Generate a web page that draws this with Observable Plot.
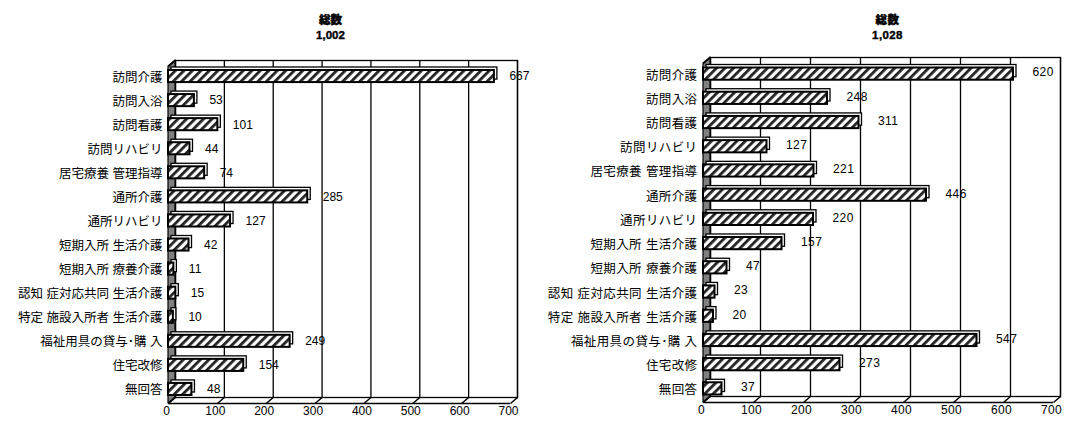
<!DOCTYPE html>
<html><head><meta charset="utf-8">
<script src="https://cdn.jsdelivr.net/npm/d3@7"></script>
<script src="https://cdn.jsdelivr.net/npm/@observablehq/plot@0.6"></script>
<style>
body{margin:0;background:#fff;}
#wrap{position:relative;width:1077px;height:424px;overflow:hidden;}
.panel{position:absolute;top:0;}
</style></head><body><div id="wrap"></div>
<script>
const categories = ["訪問介護","訪問入浴","訪問看護","訪問リハビリ","居宅療養 管理指導","通所介護","通所リハビリ","短期入所 生活介護","短期入所 療養介護","認知 症対応共同 生活介護","特定 施設入所者 生活介護","福祉用具の貸与･購 入","住宅改修","無回答"];
const leftValues = [667,53,101,44,74,285,127,42,11,15,10,249,154,48];
const rightValues = [620,248,311,127,221,446,220,157,47,23,20,547,273,37];
const leftTitle = "総数\n1,002";
const rightTitle = "総数\n1,028";
const xTicks = [0,100,200,300,400,500,600,700];

const FONT = "'Liberation Sans', Arial, 'Noto Sans CJK JP', sans-serif";

function drawChart(values, title, o) {
  const n = categories.length;
  const iw = o.width - o.ml - o.mr;
  const ih = o.height - o.mt - o.mb;
  const dX = o.depthX * 700 / iw;
  const dY = o.depthY * n / ih;
  const data = categories.map((c, i) => ({c, i, v: values[i]}));
  const idx = categories.map((c, i) => i);
  const wall = [{x: 0, top: -0.5, bot: n - 0.5}, {x: dX, top: -0.5 - dY, bot: n - 0.5 - dY}];
  const barOpts = {x1: 0, x2: "v", y1: d => d.i - 0.5, y2: d => d.i + 0.5, insetTop: o.inset, insetBottom: o.inset};
  const svg = Plot.plot({
    width: o.width, height: o.height,
    marginLeft: o.ml, marginRight: o.mr, marginTop: o.mt, marginBottom: o.mb,
    x: {domain: [0, 700], axis: null},
    y: {domain: [-0.5, n - 0.5], reverse: true, axis: null},
    style: {fontFamily: FONT, background: "white", overflow: "visible", color: "black"},
    marks: [
      Plot.frame({dx: o.depthX, dy: -o.depthY, fill: "white", stroke: "black", strokeWidth: 1.3}),
      Plot.ruleX(xTicks, {dx: o.depthX, dy: -o.depthY, stroke: "black", strokeWidth: 1.3}),
      Plot.areaY(wall, {x: "x", y1: "bot", y2: "top", fill: "#808080", stroke: "black", strokeWidth: 1.2}),
      Plot.ruleY([n - 0.5], {x1: 0, x2: 700, stroke: "black", strokeWidth: 1.5}),
      Plot.link(xTicks, {x1: d => d, y1: n - 0.5, x2: d => d + dX, y2: n - 0.5 - dY, stroke: "black", strokeWidth: 1.5}),
      Plot.link([0], {x1: 0, y1: -0.5, x2: dX, y2: -0.5 - dY, stroke: "black", strokeWidth: 1.3}),
      Plot.rectX(data, {...barOpts, dx: 3, dy: o.barDy - 3, fill: "white", stroke: "black", strokeWidth: 1.3}),
      Plot.rectX(data, {...barOpts, dy: o.barDy, fill: `url(#${o.id})`, stroke: "black", strokeWidth: 2}),
      Plot.text(data, {x: "v", y: "i", text: d => String(d.v), textAnchor: "start", dx: o.labelDx, dy: o.labelDy, fontSize: 12, fill: "black"}),
      Plot.axisY(idx, {tickFormat: i => categories[i], tickSize: 0, tickPadding: o.catPad, fontSize: 12.5, dy: o.catDy}),
      Plot.axisX(xTicks, {tickSize: 0, tickPadding: 3, fontSize: 12, dx: -2}),
      Plot.text([title], {frameAnchor: "top", dx: o.titleDx, dy: o.titleDy, lineAnchor: "top", fontWeight: 900, fontSize: 11.5, lineHeight: 1.35, fill: "black", stroke: "black", strokeWidth: 0.4})
    ]
  });
  const defs = document.createElementNS("http://www.w3.org/2000/svg", "defs");
  defs.innerHTML = `<pattern id="${o.id}" patternUnits="userSpaceOnUse" width="6" height="6" patternTransform="rotate(45)"><rect width="6" height="6" fill="white"/><rect width="2.8" height="6" fill="#222"/></pattern>`;
  svg.insertBefore(defs, svg.firstChild);
  if (o.spacing) d3.select(svg).selectAll("text").attr("letter-spacing", o.spacing);
  return svg;
}

const wrap = document.getElementById("wrap");
const p1 = document.createElement("div"); p1.className = "panel"; p1.style.left = "0px";
const p2 = document.createElement("div"); p2.className = "panel"; p2.style.left = "538px";
wrap.appendChild(p1); wrap.appendChild(p2);

p1.appendChild(drawChart(leftValues, leftTitle, {
  id: "hatchL", width: 538, height: 424, ml: 168, mr: 28, mt: 66, mb: 21,
  depthX: 7, depthY: 6, inset: 6, barDy: -2, labelDx: 15, labelDy: -2,
  catPad: 6, catDy: -1, titleDx: -9, titleDy: -54
}));
p2.appendChild(drawChart(rightValues, rightTitle, {
  id: "hatchR", width: 539, height: 424, ml: 165, mr: 24, mt: 63, mb: 22,
  depthX: 7, depthY: 6, inset: 6, barDy: -1.5, labelDx: 19, labelDy: -3,
  catPad: 6, catDy: 0, titleDx: 9, titleDy: -51, spacing: "0.4px"
}));
</script>
</body></html>
